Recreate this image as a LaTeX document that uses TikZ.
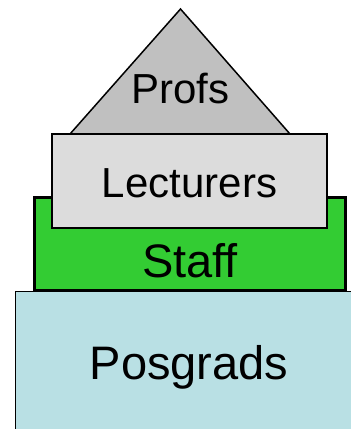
\documentclass[tikz,border=0pt]{standalone}
\usepackage{fontspec}
\setmainfont{Liberation Sans}
\definecolor{profgray}{HTML}{C0C0C0}
\definecolor{lectgray}{HTML}{DCDCDC}
\definecolor{staffgreen}{HTML}{33CC33}
\definecolor{posblue}{HTML}{B9E0E4}
\tikzset{
  lbl/.style={anchor=base, inner sep=0pt, text=black},
}
\begin{document}
\begin{tikzpicture}[x=1pt,y=-1pt]
\useasboundingbox (0,0) rectangle (351,429);
\clip (0,0) rectangle (351,429);
% Profs triangle
\draw[fill=profgray, line width=1.5pt, line join=miter] (70,134) -- (180.5,9) -- (290,134) -- cycle;
% Staff
\draw[fill=staffgreen, line width=3pt] (34,197) rectangle (345,290);
% Posgrads
\draw[fill=posblue, line width=1pt] (15.5,291) rectangle (360,440);
% Lecturers
\draw[fill=lectgray, line width=1.5pt] (52,134) rectangle (327,228);
\node[lbl, font=\fontsize{42}{42}\selectfont] (profs) at (180.5,103) {Profs};
\node[lbl, font=\fontsize{42}{42}\selectfont] (lect) at (189.5,197) {Lecturers};
\node[lbl, font=\fontsize{47}{47}\selectfont] (staff) at (190,277) {Staff};
\node[lbl, font=\fontsize{47}{47}\selectfont] (pos) at (189,379) {Posgrads};
\end{tikzpicture}
\end{document}
